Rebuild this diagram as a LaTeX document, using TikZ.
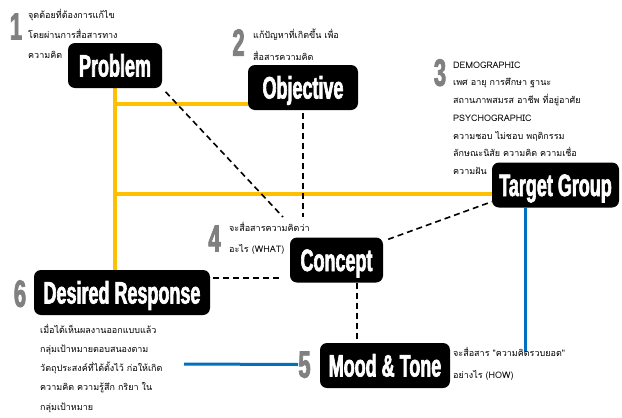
\documentclass[tikz,border=0pt]{standalone}
\usepackage{fontspec}
\usetikzlibrary{calc,backgrounds}
\newfontfamily\thaifont[Script=Thai]{Loma}
\newfontfamily\heavyfont[FakeStretch=0.58,FakeBold=2]{Liberation Sans Bold}
\definecolor{gold}{RGB}{255,192,0}
\definecolor{skyline}{RGB}{0,112,192}
\definecolor{numgray}{RGB}{128,128,128}
\newcommand\firstline{\rule{0pt}{10pt}}
\tikzset{
  tbox/.style={fill=black, rounded corners=7pt, text=white, inner sep=0pt,
    font=\heavyfont\fontsize{31}{33}\selectfont, minimum height=45pt,
    text height=22pt, text depth=0pt},
  num/.style={text=numgray, inner sep=0pt, text depth=0pt,
    font=\heavyfont\fontsize{38}{38}\selectfont},
  note/.style={font=\thaifont\fontsize{9}{#1}\selectfont, align=left,
    anchor=north west, inner sep=0pt},
  yline/.style={gold, line width=3.5pt},
  bline/.style={skyline, line width=3pt},
  dline/.style={black, line width=1.6pt, dash pattern=on 6pt off 4pt},
}
\begin{document}
\begin{tikzpicture}[x=1pt,y=-1pt]
\useasboundingbox (0,0) rectangle (622,418);

% boxes
\node[tbox, minimum width=94pt]  (p) at (115,65.5)   {Problem};
\node[tbox, minimum width=110pt] (o) at (303,87.5)   {Objective};
\node[tbox, minimum width=127pt] (t) at (555.5,185)  {Target Group};
\node[tbox, minimum width=93pt]  (c) at (336.5,260)  {Concept};
\node[tbox, minimum width=176pt] (d) at (122,292.5)  {Desired Response};
\node[tbox, minimum width=130pt] (m) at (385,365.5)  {Mood \& Tone};

% step numbers
\node[num] (n1) at (16,26.5)    {1};
\node[num] (n2) at (238.5,42.5) {2};
\node[num] (n3) at (440,72.5)   {3};
\node[num] (n4) at (214.5,238.5){4};
\node[num] (n5) at (304.5,364.5){5};
\node[num] (n6) at (20,293.5)   {6};

% notes
\node[note=20pt] (t1) at (28,8) {\firstline จุดด้อยที่ต้องการแก้ไข\\โดยผ่านการสื่อสารทาง\\ความคิด};
\node[note=22pt] (t2) at (253,28) {\firstline แก้ปัญหาที่เกิดขึ้น เพื่อ\\สื่อสารความคิด};
\node[note=17.7pt] (t3) at (453,58) {\firstline DEMOGRAPHIC\\เพศ อายุ การศึกษา ฐานะ\\สถานภาพสมรส อาชีพ ที่อยู่อาศัย\\PSYCHOGRAPHIC\\ความชอบ ไม่ชอบ พฤติกรรม\\ลักษณะนิสัย ความคิด ความเชื่อ\\ความฝัน};
\node[note=21pt] (t4) at (229,221) {\firstline จะสื่อสารความคิดว่า\\อะไร (WHAT)};
\node[note=22pt] (t5) at (453,346) {\firstline จะสื่อสาร "ความคิดรวบยอด"\\อย่างไร (HOW)};
\node[note=19.25pt] (t6) at (40,323) {\firstline เมื่อได้เห็นผลงานออกแบบแล้ว\\กลุ่มเป้าหมายตอบสนองตาม\\วัตถุประสงค์ที่ได้ตั้งไว้ ก่อให้เกิด\\ความคิด ความรู้สึก กริยา ใน\\กลุ่มเป้าหมาย};

% free ends and junctions
\coordinate (j1) at (115,104);
\coordinate (j2) at (115,194);
\coordinate (q4) at (283,217);
\coordinate (h)  at (0,278);
\coordinate (v)  at (357,0);
\coordinate (bx) at (525,352);
\coordinate (b6) at (184,364);

\begin{scope}[on background layer]
  \fill[white] (0,0) rectangle (622,418);
  % yellow links
  \draw[yline] (p.south) -- (p.south |- d.north);
  \draw[yline] (j1) -- ($(j1 -| o.west)+(4,0)$);
  \draw[yline] (j2) -- ($(j2 -| t.west)+(4,0)$);
  % dashed links
  \draw[dline, shorten <=5pt] (p.south east) -- (q4);
  \draw[dline, shorten <=3pt] (o.south) -- (o.south |- q4);
  \draw[dline] ([xshift=5pt,yshift=-2pt]c.north east) -- ([yshift=6pt]t.south west);
  \draw[dline, shorten <=3pt, shorten >=7pt] (d.east |- h) -- (c.west |- h);
  \draw[dline] (c.south -| v) -- (m.north -| v);
  % blue links
  \draw[bline] (t.south -| bx) -- (bx);
  \draw[bline] (b6) -- (n5.west);
\end{scope}
\end{tikzpicture}
\end{document}
